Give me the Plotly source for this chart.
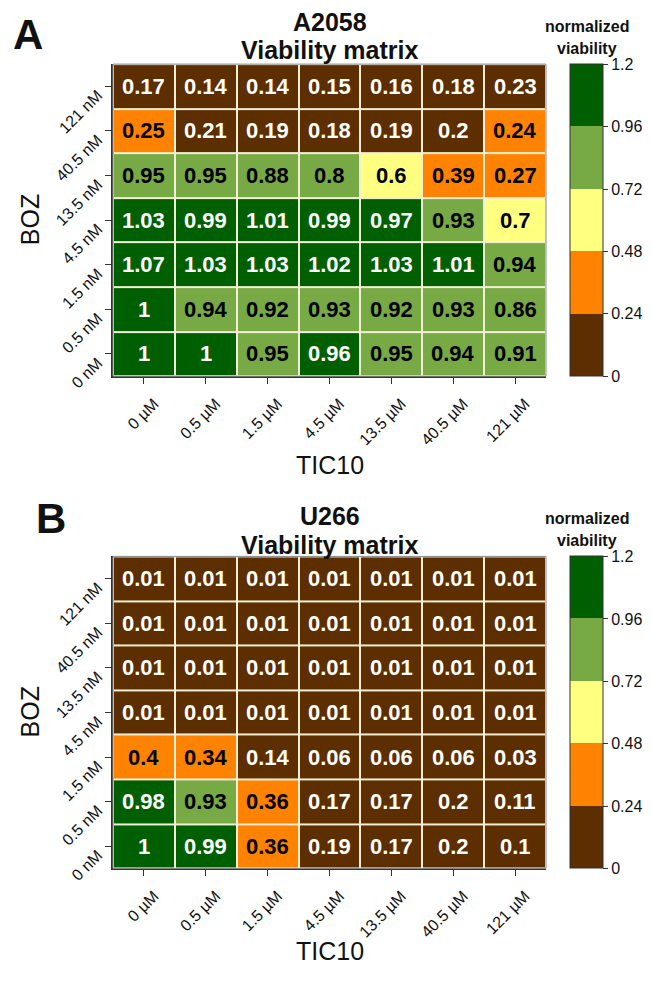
import plotly.graph_objects as go

# ---------------- data ----------------
tic10_labels = ["0 µM", "0.5 µM", "1.5 µM", "4.5 µM", "13.5 µM", "40.5 µM", "121 µM"]
boz_labels = ["0 nM", "0.5 nM", "1.5 nM", "4.5 nM", "13.5 nM", "40.5 nM", "121 nM"]  # bottom -> top

# rows listed bottom (0 nM) -> top (121 nM)
a2058_values = [
    [1, 1, 0.95, 0.96, 0.95, 0.94, 0.91],
    [1, 0.94, 0.92, 0.93, 0.92, 0.93, 0.86],
    [1.07, 1.03, 1.03, 1.02, 1.03, 1.01, 0.94],
    [1.03, 0.99, 1.01, 0.99, 0.97, 0.93, 0.7],
    [0.95, 0.95, 0.88, 0.8, 0.6, 0.39, 0.27],
    [0.25, 0.21, 0.19, 0.18, 0.19, 0.2, 0.24],
    [0.17, 0.14, 0.14, 0.15, 0.16, 0.18, 0.23],
]
u266_values = [
    [1, 0.99, 0.36, 0.19, 0.17, 0.2, 0.1],
    [0.98, 0.93, 0.36, 0.17, 0.17, 0.2, 0.11],
    [0.4, 0.34, 0.14, 0.06, 0.06, 0.06, 0.03],
    [0.01, 0.01, 0.01, 0.01, 0.01, 0.01, 0.01],
    [0.01, 0.01, 0.01, 0.01, 0.01, 0.01, 0.01],
    [0.01, 0.01, 0.01, 0.01, 0.01, 0.01, 0.01],
    [0.01, 0.01, 0.01, 0.01, 0.01, 0.01, 0.01],
]
colorbar_ticks = [0, 0.24, 0.48, 0.72, 0.96, 1.2]
panel_titles = ["A2058", "U266"]
panel_letters = ["A", "B"]

# ---------------- style ----------------
OFF = 8                              # default body margin of the html page
W, H = 652 - 2 * OFF, 987 - 2 * OFF  # page then fits the window exactly
BROWN = "#5c2e00"
ORANGE = "#ff8200"
YELLOW = "#ffff80"
LGREEN = "#77aa44"
DGREEN = "#005f00"
GRID = "#f3efd6"
FONT = "Liberation Sans, Arial, sans-serif"

eps = 1e-4
colorscale = [
    [0.0, BROWN], [0.2 - eps, BROWN],
    [0.2 - eps, ORANGE], [0.4 - eps, ORANGE],
    [0.4 - eps, YELLOW], [0.6 - eps, YELLOW],
    [0.6 - eps, LGREEN], [0.8 - eps, LGREEN],
    [0.8 - eps, DGREEN], [1.0, DGREEN],
]

def py(px):   # window pixel -> paper y
    return 1 - (px - OFF) / H

def pxx(px):  # window pixel -> paper x
    return (px - OFF) / W

x0p, x1p = 113, 546
panels = [(65, 382), (565, 882)]
title_y = [(22, 51), (524, 553)]
letter_pos = [(28, 35), (51, 527)]
xtitle_y = [472, 966]
cb_x = 570

fig = go.Figure()
annotations = []
shapes = []

for i, (vals, title, letter) in enumerate(zip([a2058_values, u266_values], panel_titles, panel_letters)):
    top, bot = panels[i]
    xa = "x" if i == 0 else "x2"
    ya = "y" if i == 0 else "y2"
    fig.add_trace(go.Heatmap(
        z=vals, x=tic10_labels, y=boz_labels,
        xaxis=xa, yaxis=ya,
        zmin=0, zmax=1.2, colorscale=colorscale,
        xgap=2, ygap=2, hoverinfo="skip",
        colorbar=dict(
            x=pxx(cb_x), xanchor="left", xref="paper",
            y=py(bot), yanchor="bottom", len=(bot - top) / H, lenmode="fraction",
            thickness=33, thicknessmode="pixels",
            outlinewidth=1, outlinecolor="#333",
            tickvals=colorbar_ticks, ticktext=[f"{t:g}" for t in colorbar_ticks],
            ticks="outside", ticklen=5, tickcolor="#333",
            tickfont=dict(family=FONT, size=16, color="#111"),
            xpad=0, ypad=0,
        ),
    ))
    axis_common = dict(
        showline=True, linewidth=2, linecolor="#333",
        ticks="outside", ticklen=6, tickwidth=1, tickcolor="#333",
        tickangle=-45, tickfont=dict(family=FONT, size=16, color="#111"),
        showgrid=False, zeroline=False, fixedrange=True,
    )
    fig.layout["xaxis" if i == 0 else "xaxis2"] = dict(
        axis_common, domain=[pxx(x0p), pxx(x1p)], anchor=ya,
        categoryorder="array", categoryarray=tic10_labels,
        ticklabelshift=10, ticklabelstandoff=4,
    )
    fig.layout["yaxis" if i == 0 else "yaxis2"] = dict(
        axis_common, domain=[py(bot), py(top)], anchor=xa,
        categoryorder="array", categoryarray=boz_labels,
        ticklabelshift=7, ticklabelstandoff=4,
    )
    # thin gray frame on top/right
    shapes.append(dict(type="rect", xref=f"{xa} domain", yref=f"{ya} domain",
                       x0=0, x1=1, y0=0, y1=1, line=dict(color="#888", width=1), layer="above"))
    # cell labels
    for r, row in enumerate(vals):
        for c, v in enumerate(row):
            col = "white" if (v < 0.24 or v >= 0.96) else "black"
            annotations.append(dict(
                x=tic10_labels[c], y=boz_labels[r], xref=xa, yref=ya,
                text=f"<b>{v:g}</b>", showarrow=False, xanchor="center", yanchor="middle",
                font=dict(family=FONT, size=22, color=col),
            ))
    cx = (x0p + x1p) / 2
    t1, t2 = title_y[i]
    # titles
    annotations.append(dict(x=pxx(cx), y=py(t1), xref="paper", yref="paper",
                            text=f"<b>{title}</b>", showarrow=False, xanchor="center", yanchor="middle",
                            font=dict(family=FONT, size=25, color="#111")))
    annotations.append(dict(x=pxx(cx), y=py(t2), xref="paper", yref="paper",
                            text="<b>Viability matrix</b>", showarrow=False, xanchor="center", yanchor="middle",
                            font=dict(family=FONT, size=25, color="#111")))
    # panel letter
    lx, ly = letter_pos[i]
    annotations.append(dict(x=pxx(lx), y=py(ly), xref="paper", yref="paper",
                            text=f"<b>{letter}</b>", showarrow=False, xanchor="center", yanchor="middle",
                            font=dict(family=FONT, size=42, color="#111")))
    # axis titles
    annotations.append(dict(x=pxx(cx), y=py(xtitle_y[i]), xref="paper", yref="paper",
                            text="TIC10", showarrow=False, xanchor="center", yanchor="middle",
                            font=dict(family=FONT, size=25, color="#111")))
    annotations.append(dict(x=pxx(30), y=py((top + bot) / 2), xref="paper", yref="paper",
                            text="BOZ", showarrow=False, textangle=-90, xanchor="center", yanchor="middle",
                            font=dict(family=FONT, size=25, color="#111")))
    # colorbar title
    annotations.append(dict(x=pxx(587), y=py(top - 38), xref="paper", yref="paper",
                            text="<b>normalized</b>", showarrow=False, xanchor="center", yanchor="middle",
                            font=dict(family=FONT, size=16, color="#111")))
    annotations.append(dict(x=pxx(587), y=py(top - 16), xref="paper", yref="paper",
                            text="<b>viability</b>", showarrow=False, xanchor="center", yanchor="middle",
                            font=dict(family=FONT, size=16, color="#111")))

fig.update_layout(
    width=W, height=H,
    margin=dict(l=0, r=0, t=0, b=0),
    paper_bgcolor="white", plot_bgcolor=GRID,
    annotations=annotations, shapes=shapes,
    showlegend=False,
)

fig.write_html("out.html")
